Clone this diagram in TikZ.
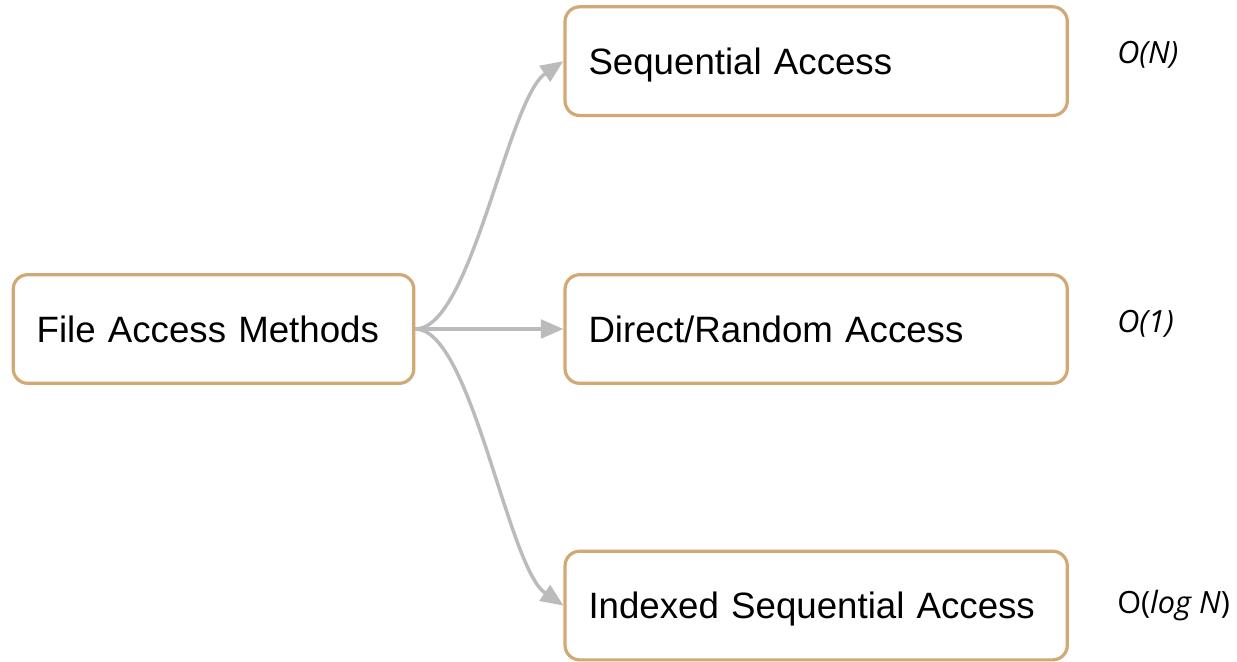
\documentclass[tikz,border=0pt]{standalone}
\usepackage{fontspec}
\setmainfont{Liberation Sans}
\newfontfamily\cplxfont{Open Sans}
\usepackage{xcolor}
\usetikzlibrary{arrows.meta,positioning}
\definecolor{boxtan}{RGB}{210,168,116}
\definecolor{linkgray}{RGB}{187,187,187}
\newcommand{\cplx}[1]{{\cplxfont\fontsize{23}{27}\selectfont #1}}

\begin{document}
\begin{tikzpicture}[
  x=0.75pt, y=-0.75pt,
  font=\fontsize{27.5}{33}\selectfont,
  box/.style={draw=boxtan, line width=2.4pt, rounded corners=11pt, fill=white,
              align=left, inner xsep=17.6pt, text height=19.7pt, text depth=0pt,
              minimum height=81.5pt},
  wide/.style={box, text width=341.5pt},
  ar/.style={draw=linkgray, line width=2.6pt, -{Triangle[length=17pt,width=14pt]}},
  cost/.style={anchor=base west, inner sep=0pt}]

\useasboundingbox (0,0) rectangle (1237,661);

\node[box, text width=265.3pt] (fam) at (213.5,329) {File Access Methods};
\node[wide, right=111pt of fam] (dir) {Direct/Random Access};
\node[wide, above=117pt of dir] (seq) {Sequential Access};
\node[wide, below=123.5pt of dir] (idx) {Indexed Sequential Access};

% access cost of each method
\node[cost] (cseq) at (1117,63) {\cplx{\itshape O(N)}};
\node[cost] (cdir) at (1117,332) {\cplx{\itshape O(1)}};
\node[cost] (cidx) at (1117,613) {\cplx{O(\textit{log N})}};

\draw[ar] (fam.east) .. controls +(56,0) and +(-56,38) .. (seq.west);
\draw[ar] (fam.east) -- (dir.west);
\draw[ar] (fam.east) .. controls +(56,0) and +(-56,-38) .. (idx.west);
\end{tikzpicture}
\end{document}
